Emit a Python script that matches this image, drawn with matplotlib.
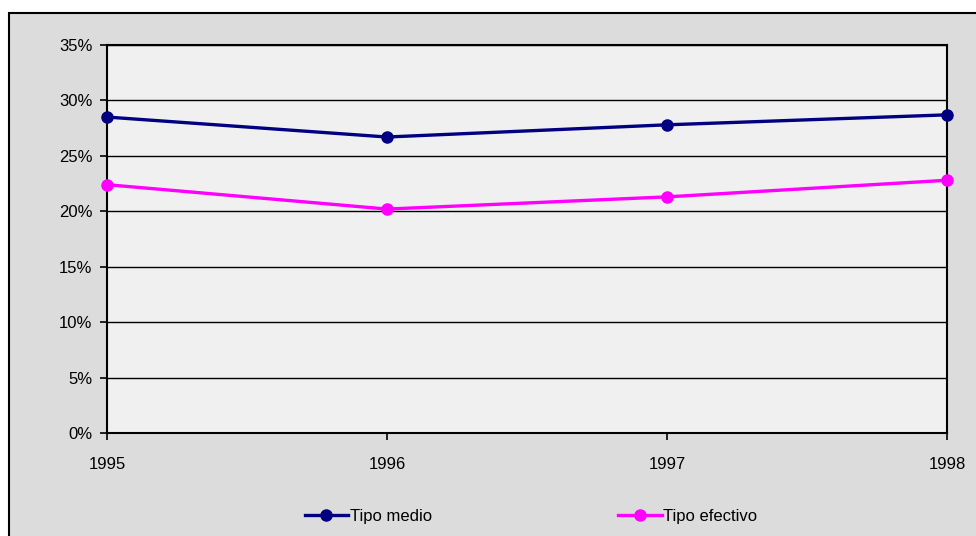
import matplotlib
matplotlib.use("Agg")
import matplotlib.pyplot as plt
from matplotlib.patches import Rectangle
from matplotlib.ticker import FuncFormatter

years = [1995, 1996, 1997, 1998]
tipo_medio = [28.5, 26.7, 27.8, 28.7]
tipo_efectivo = [22.4, 20.2, 21.3, 22.8]
labels = ["Tipo medio", "Tipo efectivo"]

plt.rcParams['font.family'] = ['Liberation Sans', 'DejaVu Sans']

W, H = 976, 536
fig = plt.figure(figsize=(W / 100, H / 100), dpi=100, facecolor='white')
bg = Rectangle((9 / W, -0.01), 1.02 - 9 / W, 1 - 13 / H + 0.01,
               transform=fig.transFigure, facecolor='#DCDCDC',
               edgecolor='black', linewidth=1.5, zorder=-10)
fig.patches.append(bg)

ax = fig.add_axes([107 / W, (H - 433) / H, (947 - 107) / W, (433 - 45) / H])
ax.set_zorder(1)
ax.set_facecolor('#F0F0F0')

ax.plot(years, tipo_medio, color='#000080', lw=2.4, marker='o', ms=8,
        label=labels[0], clip_on=False, zorder=3)
ax.plot(years, tipo_efectivo, color='#FF00FF', lw=2.4, marker='o', ms=8,
        label=labels[1], clip_on=False, zorder=3)

ax.set_xlim(1995, 1998)
ax.set_ylim(0, 35)
ax.set_xticks(years)
ax.set_xticklabels([str(y) for y in years])
ax.set_yticks(range(0, 36, 5))
ax.yaxis.set_major_formatter(FuncFormatter(lambda v, p: f"{int(v)}%"))
ax.grid(axis='y', color='black', lw=1)
ax.set_axisbelow(True)
for s in ax.spines.values():
    s.set_color('black')
    s.set_linewidth(1.5)
ax.tick_params(axis='both', length=5, width=1.2, color='black', labelsize=12,
               labelcolor='black')
ax.tick_params(axis='x', pad=12)
ax.tick_params(axis='y', pad=5.5)

leg = fig.legend(loc='center', bbox_to_anchor=(531 / W, 20 / H), ncol=2, frameon=False,
                 fontsize=12, handlelength=2.6, handletextpad=0.1, columnspacing=11.2)
leg.set_zorder(2)

fig.savefig('out.png', dpi=100, facecolor=fig.get_facecolor())
